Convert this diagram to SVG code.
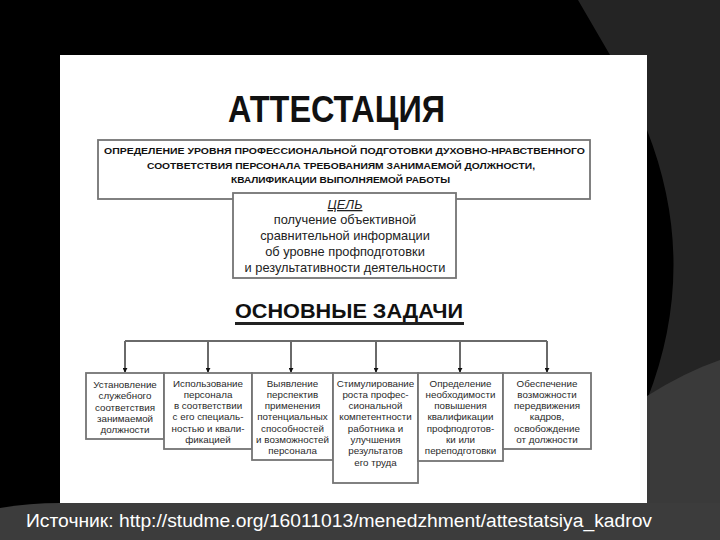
<svg xmlns="http://www.w3.org/2000/svg" width="720" height="540" viewBox="0 0 720 540">
<style>
.box{fill:#fff;stroke:#747474;stroke-width:1.8}
.bt{font-family:"Liberation Sans",Arial,sans-serif;font-size:9.8px;fill:#2a2a2a;text-anchor:middle}
.hd{font-family:"Liberation Sans",Arial,sans-serif;font-weight:bold;fill:#111}
.goal{font-family:"Liberation Sans",Arial,sans-serif;font-size:12.8px;fill:#222;text-anchor:middle}
.conn{stroke:#6a6a6a;stroke-width:2;fill:none}
</style>
<defs>
<marker id="arr" viewBox="0 0 6 6" refX="5" refY="3" markerWidth="5" markerHeight="5" orient="auto" markerUnits="userSpaceOnUse">
<path d="M0,0 L6,3 L0,6 Z" fill="#111"/>
</marker>
</defs>
<g id="background">
<rect x="0" y="0" width="720" height="540" fill="#000"/>
<path d="M578,0 L720,0 L720,400 L647,400 Q700,265 647,130 L610,55 Z" fill="#242424"/>
<path d="M647,396 Q685,372 720,360 L720,540 L647,540 Z" fill="#3a3a3a"/>
<path d="M0,508 Q30,503 60,503 L720,503 L720,540 L0,540 Z" fill="#3c3c3c"/>
<rect x="60" y="55" width="587" height="448" fill="#fff"/>
</g>
<g id="title">
<text class="hd" x="228" y="122" font-size="36" textLength="217" lengthAdjust="spacingAndGlyphs">АТТЕСТАЦИЯ</text>
</g>
<g id="definition">
<rect class="box" x="98" y="140" width="492" height="59"/>
<text class="hd" font-size="9.6" x="104" y="154" textLength="481" lengthAdjust="spacingAndGlyphs">ОПРЕДЕЛЕНИЕ УРОВНЯ ПРОФЕССИОНАЛЬНОЙ ПОДГОТОВКИ ДУХОВНО-НРАВСТВЕННОГО</text>
<text class="hd" font-size="9.6" x="147" y="168.5" textLength="388" lengthAdjust="spacingAndGlyphs">СООТВЕТСТВИЯ ПЕРСОНАЛА ТРЕБОВАНИЯМ ЗАНИМАЕМОЙ ДОЛЖНОСТИ,</text>
<text class="hd" font-size="9.6" x="231" y="183" textLength="219" lengthAdjust="spacingAndGlyphs">КВАЛИФИКАЦИИ ВЫПОЛНЯЕМОЙ РАБОТЫ</text>
</g>
<g id="goal">
<rect class="box" x="233" y="193" width="223" height="85"/>
<text class="goal" x="345" y="209" font-style="italic" text-decoration="underline">ЦЕЛЬ</text>
<text class="goal" x="345" y="224">получение объективной</text>
<text class="goal" x="345" y="240">сравнительной информации</text>
<text class="goal" x="345" y="256">об уровне профподготовки</text>
<text class="goal" x="345" y="272">и результативности деятельности</text>
</g>
<g id="tasks-heading">
<text class="hd" x="235" y="318" font-size="21" textLength="228" lengthAdjust="spacingAndGlyphs">ОСНОВНЫЕ ЗАДАЧИ</text>
<rect x="235" y="322" width="229" height="3" fill="#222"/>
</g>
<g id="connectors">
<path class="conn" d="M125,341 H547"/>
<path class="conn" d="M125,341 V372" marker-end="url(#arr)"/>
<path class="conn" d="M208,341 V372" marker-end="url(#arr)"/>
<path class="conn" d="M291,341 V372" marker-end="url(#arr)"/>
<path class="conn" d="M376,341 V372" marker-end="url(#arr)"/>
<path class="conn" d="M460,341 V372" marker-end="url(#arr)"/>
<path class="conn" d="M547,341 V372" marker-end="url(#arr)"/>
</g>
<g id="task1">
<rect class="box" x="86" y="373" width="78" height="66"/>
<text class="bt" x="125" y="388">Установление</text>
<text class="bt" x="125" y="399.3">служебного</text>
<text class="bt" x="125" y="410.6">соответствия</text>
<text class="bt" x="125" y="421.9">занимаемой</text>
<text class="bt" x="125" y="433.2">должности</text>
</g>
<g id="task2">
<rect class="box" x="164" y="373" width="88" height="76"/>
<text class="bt" x="208" y="386.5">Использование</text>
<text class="bt" x="208" y="397.8">персонала</text>
<text class="bt" x="208" y="409.1">в соответствии</text>
<text class="bt" x="208" y="420.4">с его специаль-</text>
<text class="bt" x="208" y="431.7">ностью и квали-</text>
<text class="bt" x="208" y="443">фикацией</text>
</g>
<g id="task3">
<rect class="box" x="252" y="373" width="81" height="87"/>
<text class="bt" x="292.5" y="386.5">Выявление</text>
<text class="bt" x="292.5" y="397.8">перспектив</text>
<text class="bt" x="292.5" y="409.1">применения</text>
<text class="bt" x="292.5" y="420.4">потенциальных</text>
<text class="bt" x="292.5" y="431.7">способностей</text>
<text class="bt" x="292.5" y="443">и возможностей</text>
<text class="bt" x="292.5" y="454.3">персонала</text>
</g>
<g id="task4">
<rect class="box" x="333" y="373" width="85" height="110"/>
<text class="bt" x="375.5" y="386.5">Стимулирование</text>
<text class="bt" x="375.5" y="397.8">роста профес-</text>
<text class="bt" x="375.5" y="409.1">сиональной</text>
<text class="bt" x="375.5" y="420.4">компетентности</text>
<text class="bt" x="375.5" y="431.7">работника и</text>
<text class="bt" x="375.5" y="443">улучшения</text>
<text class="bt" x="375.5" y="454.3">результатов</text>
<text class="bt" x="375.5" y="465.6">его труда</text>
</g>
<g id="task5">
<rect class="box" x="418" y="373" width="85" height="88"/>
<text class="bt" x="460.5" y="386.5">Определение</text>
<text class="bt" x="460.5" y="397.8">необходимости</text>
<text class="bt" x="460.5" y="409.1">повышения</text>
<text class="bt" x="460.5" y="420.4">квалификации</text>
<text class="bt" x="460.5" y="431.7">профподготов-</text>
<text class="bt" x="460.5" y="443">ки или</text>
<text class="bt" x="460.5" y="454.3">переподготовки</text>
</g>
<g id="task6">
<rect class="box" x="503" y="373" width="88" height="76"/>
<text class="bt" x="547" y="386.5">Обеспечение</text>
<text class="bt" x="547" y="397.8">возможности</text>
<text class="bt" x="547" y="409.1">передвижения</text>
<text class="bt" x="547" y="420.4">кадров,</text>
<text class="bt" x="547" y="431.7">освобождение</text>
<text class="bt" x="547" y="443">от должности</text>
</g>
<g id="source">
<text x="26" y="527" font-family="'Liberation Sans',Arial,sans-serif" font-size="18" fill="#fff" textLength="626" lengthAdjust="spacingAndGlyphs">Источник: http://studme.org/16011013/menedzhment/attestatsiya_kadrov</text>
</g>
</svg>
